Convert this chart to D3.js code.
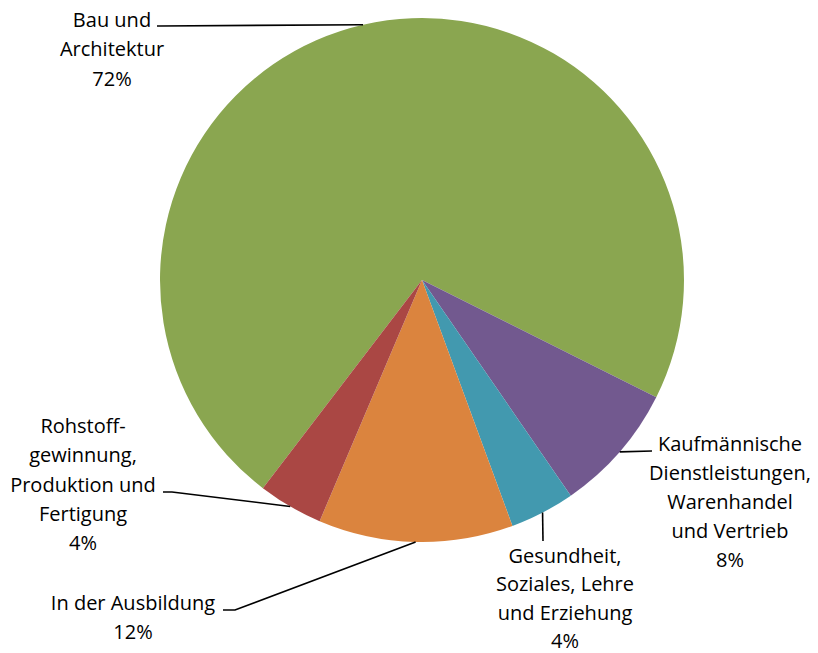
<!DOCTYPE html>
<html>
<head>
<meta charset="utf-8">
<script src="https://cdn.jsdelivr.net/npm/d3@7"></script>
<style>
  html, body { margin: 0; padding: 0; background: #fff; }
  svg { display: block; }
  text { font-family: "Open Sans", sans-serif; font-size: 20px; fill: #000; }
</style>
</head>
<body>
<svg id="chart" width="818" height="653"></svg>
<script>
// ---- data ----
const categories = [
  "Bau und Architektur",
  "Kaufmännische Dienstleistungen, Warenhandel und Vertrieb",
  "Gesundheit, Soziales, Lehre und Erziehung",
  "In der Ausbildung",
  "Rohstoffgewinnung, Produktion und Fertigung"
];
const values = [72, 8, 4, 12, 4];
const labelLines = [
  ["Bau und", "Architektur"],
  ["Kaufmännische", "Dienstleistungen,", "Warenhandel", "und Vertrieb"],
  ["Gesundheit,", "Soziales, Lehre", "und Erziehung"],
  ["In der Ausbildung"],
  ["Rohstoff-", "gewinnung,", "Produktion und", "Fertigung"]
];
const colors = ["#8AA650", "#72598F", "#4299AF", "#DB843E", "#AA4744"];

// ---- layout ----
const cx = 422, cy = 280, R = 262;
const startDeg = 217.4;
// label text centre x, first baseline y, line height; leader: elbow + end point near text
const labelLayout = [
  { x: 112, y: 27,  lh: 29.3, pts: [[160, 26], [157, 26]] },
  { x: 730, y: 451, lh: 29.0, pts: [[652, 451]] },
  { x: 565, y: 563, lh: 28.3, pts: [[543, 541]] },
  { x: 133, y: 610, lh: 28.5, pts: [[235, 610], [223, 610]] },
  { x: 83,  y: 433, lh: 29.3, pts: [[172, 492], [163, 492]] }
];

const svg = d3.select("#chart");
const g = svg.append("g").attr("transform", `translate(${cx},${cy})`);

const pie = d3.pie().sort(null).value(d => d)
  .startAngle(startDeg * Math.PI / 180)
  .endAngle(startDeg * Math.PI / 180 + 2 * Math.PI);
const arcs = pie(values);
const arc = d3.arc().innerRadius(0).outerRadius(R);

g.selectAll("path.slice").data(arcs).join("path")
  .attr("class", "slice")
  .attr("d", arc)
  .attr("fill", (d, i) => colors[i]);

const total = d3.sum(values);
const fmt = v => Math.round(v / total * 100) + "%";

arcs.forEach((d, i) => {
  const mid = (d.startAngle + d.endAngle) / 2;
  const p0 = [cx + R * Math.sin(mid), cy - R * Math.cos(mid)];
  const L = labelLayout[i];
  const pts = [p0].concat(L.pts);
  svg.append("path")
    .attr("d", d3.line()(pts))
    .attr("fill", "none")
    .attr("stroke", "#000")
    .attr("stroke-width", 1.6);
  const lines = labelLines[i].concat([fmt(values[i])]);
  const t = svg.append("text").attr("text-anchor", "middle");
  lines.forEach((ln, k) => {
    t.append("tspan").attr("x", L.x).attr("y", L.y + k * L.lh).text(ln);
  });
});
</script>
</body>
</html>
